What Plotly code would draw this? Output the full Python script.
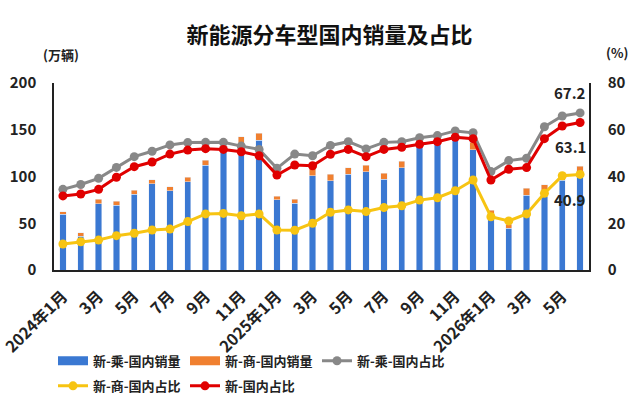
import plotly.graph_objects as go

months = ["2024年1月", "2月", "3月", "4月", "5月", "6月", "7月", "8月", "9月", "10月", "11月", "12月",
          "2025年1月", "2月", "3月", "4月", "5月", "6月", "7月", "8月", "9月", "10月", "11月", "12月",
          "2026年1月", "2月", "3月", "4月", "5月", "6月"]
cats = [f"{i:02d}|{m}" for i, m in enumerate(months)]
tick_idx = list(range(0, 30, 2))

pass_sales = [59.5, 36, 71, 69.5, 81, 92, 85, 94.5, 112, 126, 134.5, 139,
              75, 71.5, 101, 95.5, 102.5, 105, 97, 109.5, 133, 137, 140, 128.5,
              60, 44.5, 80, 79, 96, 100]
comm_sales = [3, 4, 4.5, 4, 4.5, 4.5, 4, 4.5, 5.5, 6, 8, 7,
              4, 4, 7.5, 7, 7, 7, 6.5, 7, 7, 7, 7, 8,
              4, 4.5, 7.5, 12, 6, 11]
pass_share = [34.5, 36.6, 39.2, 43.9, 48.5, 50.8, 53.5, 54.5, 54.6, 54.6, 53.0, 51.6,
              43.5, 49.6, 48.9, 53.3, 54.9, 51.8, 54.6, 54.9, 56.6, 57.5, 59.5, 58.7,
              42.1, 46.8, 47.8, 61.3, 65.9, 67.2]
comm_share = [11.1, 12.1, 12.8, 14.7, 15.7, 17.1, 17.5, 20.7, 24.0, 24.2, 23.2, 24.0,
              17.1, 17.0, 20.0, 24.7, 25.7, 25.0, 26.7, 27.5, 29.9, 30.9, 33.9, 38.5,
              22.8, 21.0, 24.0, 32.8, 40.3, 40.9]
total_share = [31.7, 32.5, 34.5, 39.7, 44.2, 46.2, 49.6, 51.3, 51.9, 51.6, 50.6, 48.9,
               40.6, 44.9, 44.6, 49.5, 51.6, 48.5, 51.6, 52.5, 53.8, 54.9, 56.8, 56.2,
               38.5, 43.1, 43.8, 56.2, 61.6, 63.1]

names = ["新-乘-国内销量", "新-商-国内销量", "新-乘-国内占比", "新-商-国内占比", "新-国内占比"]
BLUE, ORANGE, GRAY, YELLOW, RED = "#3A78D2", "#F08030", "#888888", "#F7C412", "#E00000"
FONT = "Noto Sans CJK SC"

fig = go.Figure()
fig.add_trace(go.Bar(x=cats, y=pass_sales, marker_color=BLUE, name=names[0], showlegend=False))
fig.add_trace(go.Bar(x=cats, y=comm_sales, marker_color=ORANGE, name=names[1], showlegend=False))

# legend proxies for bars (wide rectangle symbols)
fig.add_trace(go.Scatter(x=[None], y=[None], mode="lines", line=dict(color=BLUE, width=9),
                         name=names[0], legend="legend"))
fig.add_trace(go.Scatter(x=[None], y=[None], mode="lines", line=dict(color=ORANGE, width=9),
                         name=names[1], legend="legend"))

fig.add_trace(go.Scatter(x=cats, y=pass_share, yaxis="y2", mode="lines+markers", name=names[2],
                         line=dict(color=GRAY, width=3), marker=dict(size=9, color=GRAY),
                         legend="legend"))
fig.add_trace(go.Scatter(x=cats, y=comm_share, yaxis="y2", mode="lines+markers", name=names[3],
                         line=dict(color=YELLOW, width=3), marker=dict(size=9, color=YELLOW),
                         legend="legend2"))
fig.add_trace(go.Scatter(x=cats, y=total_share, yaxis="y2", mode="lines+markers", name=names[4],
                         line=dict(color=RED, width=3), marker=dict(size=9, color=RED),
                         legend="legend2"))

last = cats[-1]
labels = [(pass_share[-1], 20), (total_share[-1], -24), (comm_share[-1], -25)]
for val, ys in labels:
    fig.add_annotation(x=last, y=val, xref="x", yref="y2", text=f"<b>{val:.1f}</b>",
                       showarrow=False, xanchor="right", xshift=8, yshift=ys,
                       font=dict(size=15, color="#222222", family=FONT))

fig.add_annotation(x=-0.024, y=1.155, xref="paper", yref="paper", text="<b>(万辆)</b>",
                   showarrow=False, xanchor="left", yanchor="middle",
                   font=dict(size=13, color="#222222", family=FONT))
fig.add_annotation(x=1.028, y=1.165, xref="paper", yref="paper", text="<b>(%)</b>",
                   showarrow=False, xanchor="left", yanchor="middle",
                   font=dict(size=13, color="#222222", family=FONT))

legend_common = dict(orientation="h", xanchor="left", yanchor="top", bgcolor="rgba(0,0,0,0)",
                     traceorder="normal", xref="container", yref="container",
                     font=dict(size=13, color="#222222", family=FONT, weight="bold"),
                     entrywidth=87, entrywidthmode="pixels", itemwidth=30, tracegroupgap=0)

fig.update_layout(
    width=640, height=404,
    margin=dict(l=54, r=51, t=83, b=134, autoexpand=False),
    paper_bgcolor="white", plot_bgcolor="white",
    barmode="stack", bargap=0.65,
    title=dict(text="<b>新能源分车型国内销量及占比</b>", x=0.515, xanchor="center",
               y=1 - 35 / 404, yanchor="middle", yref="container",
               font=dict(size=22, color="#111111", family=FONT)),
    font=dict(family=FONT, color="#222222"),
    xaxis=dict(type="category", range=[-0.5, 29.5], tickmode="array", automargin=False,
               tickvals=[cats[i] for i in tick_idx], ticktext=[months[i] for i in tick_idx],
               tickangle=-45, showline=True, linecolor="#222222", linewidth=1.5,
               ticks="", showgrid=False, ticklabelstandoff=9,
               tickfont=dict(size=16, family=FONT, color="#222222", weight="bold")),
    yaxis=dict(range=[0, 200], tickvals=[0, 50, 100, 150, 200], showline=True, automargin=False,
               linecolor="#222222", linewidth=1.5, showgrid=False, zeroline=False,
               ticks="", ticklabelstandoff=13,
               tickfont=dict(size=15, family=FONT, color="#222222", weight="bold")),
    yaxis2=dict(range=[0, 80], tickvals=[0, 20, 40, 60, 80], overlaying="y", side="right",
                showline=True, linecolor="#222222", linewidth=1.5, showgrid=False, automargin=False,
                zeroline=False, ticks="", ticklabelstandoff=14,
                tickfont=dict(size=15, family=FONT, color="#222222", weight="bold")),
    legend=dict(x=53 / 640, y=0.144, **legend_common),
    legend2=dict(x=53 / 640, y=0.082, **legend_common),
)

fig.write_html("out.html")
